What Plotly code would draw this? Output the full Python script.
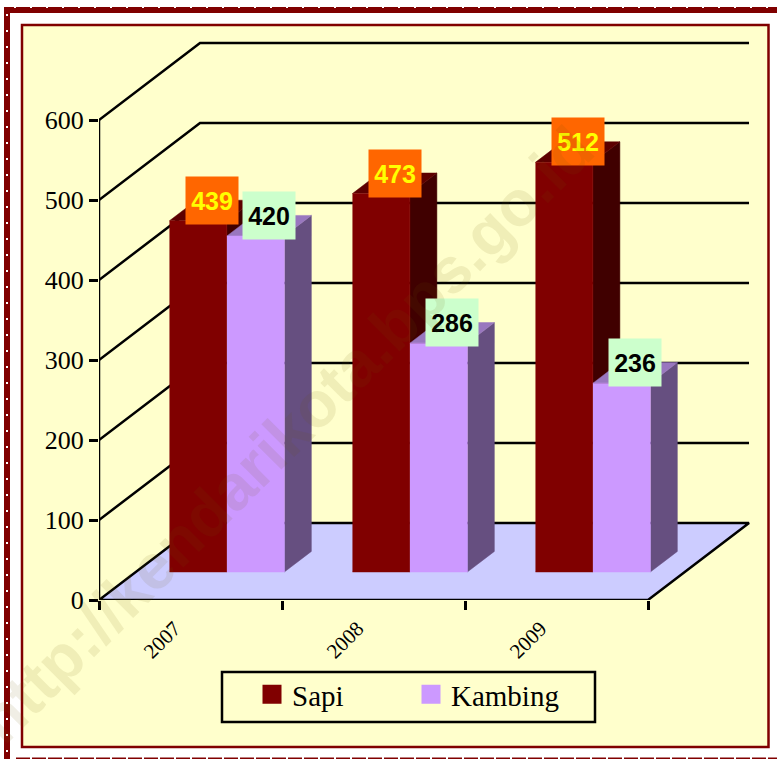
import plotly.graph_objects as go

W, H = 777, 759
years = ["2007", "2008", "2009"]
sapi = [439, 473, 512]
kambing = [420, 286, 236]
y_ticks = [0, 100, 200, 300, 400, 500, 600]

# oblique projection of the pseudo-3D box (depth as a fraction of the floor)
DX, DY = 0.552, 96.25
D0, D1 = 0.364, 0.631
BAR_W = 0.314
CENTER = 0.699


def proj(c, v, d=0.0):
    return c + d * DX, v + d * DY


def poly(points, fill, line=None, lw=0.0):
    xs, ys = zip(*points)
    return go.Scatter(x=list(xs), y=list(ys), mode="lines", fill="toself", fillcolor=fill,
                      line=dict(color=line or fill, width=lw), cliponaxis=False,
                      showlegend=False, hoverinfo="skip")


def path(points, width=2.5):
    xs, ys = zip(*points)
    return go.Scatter(x=list(xs), y=list(ys), mode="lines", line=dict(color="black", width=width),
                      cliponaxis=False, showlegend=False, hoverinfo="skip")


def bar(c0, c1, v, front, top, side):
    # c0/c1 are measured on the bar's front plane; only x-free depth offset is added here
    def p(c, val, d):
        x, _ = proj(c, val, d - D0)
        _, y = proj(c, val, d)
        return x, y
    return [
        poly([p(c1, 0, D0), p(c1, 0, D1), p(c1, v, D1), p(c1, v, D0)], side, side, 0.5),
        poly([p(c0, v, D0), p(c0, v, D1), p(c1, v, D1), p(c1, v, D0)], top, top, 0.5),
        poly([p(c0, 0, D0), p(c1, 0, D0), p(c1, v, D0), p(c0, v, D0)], front, front, 0.5),
    ]


fig = go.Figure()

# walls
for v in y_ticks[1:]:
    fig.add_trace(path([proj(0, v, 0), proj(0, v, 1), proj(3, v, 1)]))
# floor
fig.add_trace(poly([proj(0, 0, 0), proj(3, 0, 0), proj(3, 0, 1), proj(0, 0, 1)], "#CCCCFF"))
fig.add_trace(path([proj(0, 0, 1), proj(3, 0, 1), proj(3, 0, 0), proj(0, 0, 0), proj(0, 0, 1)]))
fig.add_trace(path([proj(0, y_ticks[-1], 0), proj(0, 0, 0)]))

# bars
for i in range(len(years)):
    m = i + CENTER
    for t in bar(m - BAR_W, m, sapi[i], "#800000", "#5C0000", "#400000"):
        fig.add_trace(t)
    for t in bar(m, m + BAR_W, kambing[i], "#CC99FF", "#9977BF", "#664F80"):
        fig.add_trace(t)

# legend entries
fig.add_trace(go.Scatter(x=[None], y=[None], mode="markers", name="Sapi",
                         marker=dict(symbol="square", size=16, color="#800000", line=dict(color="#800000", width=3))))
fig.add_trace(go.Scatter(x=[None], y=[None], mode="markers", name="Kambing",
                         marker=dict(symbol="square", size=16, color="#CC99FF", line=dict(color="#CC99FF", width=3))))


# data labels
def label(c, v, text, bg, fg):
    x, _ = proj(c, v, (D1 - D0) / 2)
    _, y = proj(c, v, D1)
    fig.add_annotation(x=x, y=y, xref="x", yref="y", text=f"<b>{text}</b>",
                       showarrow=False, bgcolor=bg, width=52, height=47, borderpad=0,
                       font=dict(family="Liberation Sans", size=25, color=fg), xanchor="center", yanchor="middle")


for i in range(len(years)):
    m = i + CENTER
    label(m - BAR_W / 2, sapi[i], sapi[i], "#FF6600", "#FFFF00")
    label(m + BAR_W / 2, kambing[i], kambing[i], "#CCFFCC", "#000000")

# watermark
fig.add_annotation(x=285 / W, y=1 - 435 / H, xref="paper", yref="paper", showarrow=False,
                   text="<b>http://kendarikota.bps.go.id</b>", textangle=-45,
                   font=dict(family="Liberation Sans", size=64, color="rgba(110,90,0,0.10)"))


# page furniture (pixels -> paper)
def rect(x0, y0, x1, y1, fill=None, line=None, lw=0, layer="below"):
    return dict(type="rect", xref="paper", yref="paper", x0=x0 / W, x1=x1 / W, y0=1 - y0 / H, y1=1 - y1 / H,
                fillcolor=fill or "rgba(0,0,0,0)", line=dict(color=line or "rgba(0,0,0,0)", width=lw), layer=layer)


shapes = [
    rect(4, 7, 10, 759, "#800000"),
    rect(4, 7, 777, 13, "#800000"),
    rect(22, 25, 768.5, 747, "#FFFFCC", "#800000", 2.5),
    rect(222, 672, 595, 722, "#FFFFCC", "#000000", 2.5),
]
for k in range(47):
    shapes.append(rect(6, 14 + 16 * k, 8, 16 + 16 * k, "white"))
for k in range(48):
    shapes.append(rect(14 + 16 * k, 7, 16 + 16 * k, 8, "white"))
    shapes.append(rect(16 + 16 * k, 757.5, 30 + 16 * k, 759, "#800000"))

fig.update_layout(
    width=W, height=H, autosize=False,
    margin=dict(l=0, r=0, t=0, b=0, autoexpand=False),
    paper_bgcolor="white", plot_bgcolor="rgba(0,0,0,0)",
    shapes=shapes,
    showlegend=True,
    legend=dict(orientation="h", x=252 / W, y=1 - 720 / H, xanchor="left", yanchor="bottom",
                entrywidth=114, entrywidthmode="pixels", itemsizing="trace", bgcolor="rgba(0,0,0,0)",
                font=dict(family="Liberation Serif", size=29, color="black")),
    xaxis=dict(domain=[99 / W, 755 / W], range=[0, 656 / 183], showgrid=False, zeroline=False, showline=False,
               tickmode="array", tickvals=[i + 0.413 for i in range(len(years))], ticktext=years,
               tickangle=-45, ticks="outside", ticklen=7, tickcolor="rgba(0,0,0,0)",
               tickfont=dict(family="Liberation Serif", size=21, color="black"),
               minor=dict(tickmode="array", tickvals=[0, 1, 2, 3], ticks="outside", ticklen=9, tickwidth=2.5, tickcolor="black")),
    yaxis=dict(domain=[(H - 600) / H, (H - 36) / H], range=[0, 564 / 0.8], showgrid=False, zeroline=False, showline=False,
               tickmode="array", tickvals=y_ticks, ticks="outside", ticklen=9, tickwidth=2.5, tickcolor="black",
               tickfont=dict(family="Liberation Serif", size=26, color="black")),
)

fig.write_html("out.html", config=dict(displayModeBar=False),
               post_script="document.body.style.margin='0';document.body.style.overflow='hidden';")
